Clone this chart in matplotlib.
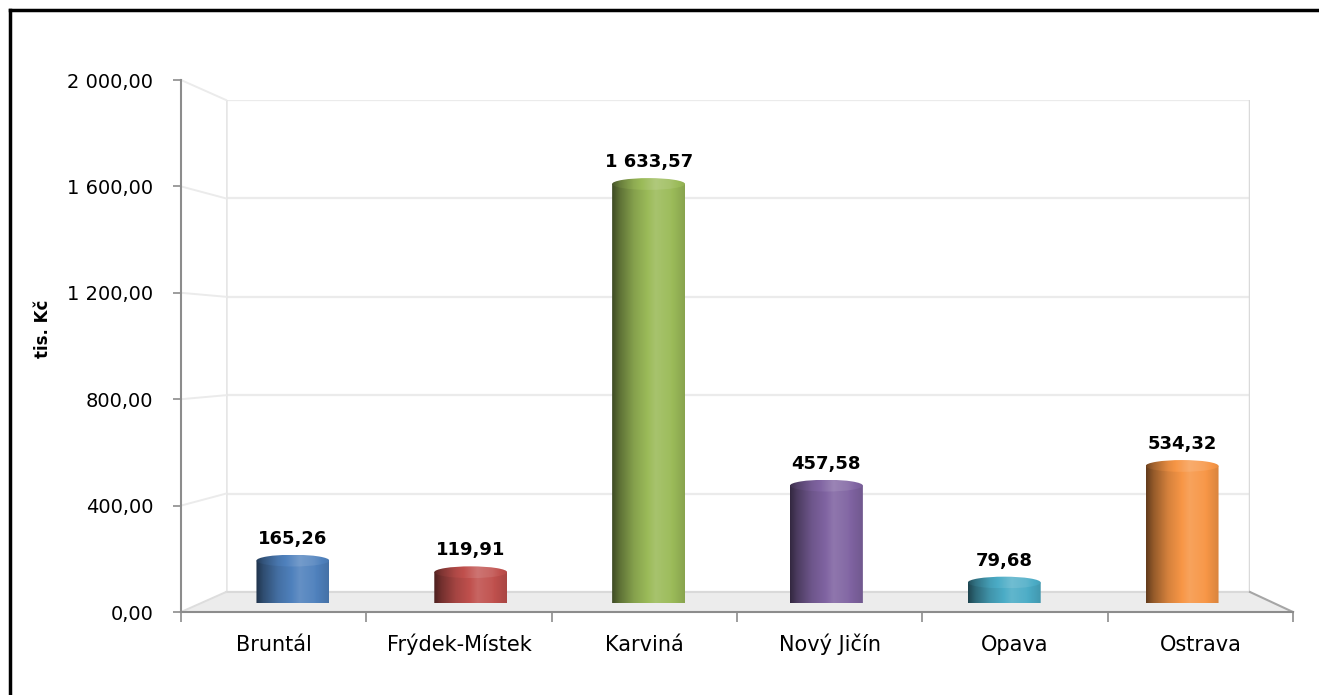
import numpy as np
import matplotlib
matplotlib.use("Agg")
import matplotlib.pyplot as plt
from matplotlib.patches import Polygon, Ellipse, PathPatch
from matplotlib.path import Path
from matplotlib.lines import Line2D
import matplotlib.colors as mcolors

# ---------------- data ----------------
categories = ["Bruntál", "Frýdek-Místek", "Karviná", "Nový Jičín", "Opava", "Ostrava"]
values = [165.26, 119.91, 1633.57, 457.58, 79.68, 534.32]
value_labels = ["165,26", "119,91", "1 633,57", "457,58", "79,68", "534,32"]
bar_colors = ["#4f81bd", "#c0504d", "#9bbb59", "#8064a2", "#4bacc6", "#f79646"]
y_ticks = [0, 400, 800, 1200, 1600, 2000]
y_tick_labels = ["0,00", "400,00", "800,00", "1 200,00", "1 600,00", "2 000,00"]
y_label = "tis. Kč"

plt.rcParams['font.family'] = ['DejaVu Sans']

W, H = 1319, 695
fig = plt.figure(figsize=(W / 100, H / 100), dpi=100)
fig.patch.set_facecolor("white")


def rect(x0, x1, ytop, ybot):
    return [x0 / W, 1 - ybot / H, (x1 - x0) / W, (ybot - ytop) / H]


n = len(categories)
xlim = (-0.5, n - 0.5)
ylim = (0, 2000)

# back wall, mid plane (bars), front plane (axes)
ax_back = fig.add_axes(rect(226, 1250, 100, 592), zorder=0)
ax_front = fig.add_axes(rect(181, 1293, 80, 612), zorder=1)
ax_mid = fig.add_axes(rect(204, 1271, 90, 603), zorder=2)

for a in (ax_back, ax_front, ax_mid):
    a.set_xlim(*xlim)
    a.set_ylim(*ylim)
    a.patch.set_alpha(0)

# ---- back wall ----
ax_back.set_axis_off()
grid_c = "#ebebeb"
for v in y_ticks:
    ax_back.plot(xlim, [v, v], color=grid_c, lw=1.6, solid_capstyle="butt")
ax_back.plot([xlim[0], xlim[0]], ylim, color="#e6e6e6", lw=1.8)
ax_back.plot([xlim[1], xlim[1]], ylim, color="#dadada", lw=2.5)


def to_front(ax_src, x, y):
    p = ax_src.transData.transform((x, y))
    return ax_front.transData.inverted().transform(p)


# ---- floor & left wall (in front axes) ----
bl = to_front(ax_back, xlim[0], 0)
br = to_front(ax_back, xlim[1], 0)
floor = Polygon([(xlim[0], 0), (xlim[1], 0), br, bl], closed=True,
                facecolor="#ececec", edgecolor="none", zorder=0, clip_on=False)
ax_front.add_patch(floor)
ax_front.plot([bl[0], br[0]], [bl[1], br[1]], color="#d9d9d9", lw=1.5, clip_on=False, zorder=1)
ax_front.plot([xlim[1], br[0]], [0, br[1]], color="#a6a6a6", lw=1.5, clip_on=False, zorder=1)
for v in y_ticks:
    b = to_front(ax_back, xlim[0], v)
    c = "#dddddd" if v == 0 else grid_c
    ax_front.plot([xlim[0], b[0]], [v, b[1]], color=c, lw=1.4, clip_on=False, zorder=1)

# ---- front axis styling ----
for s in ("top", "right"):
    ax_front.spines[s].set_visible(False)
ax_front.spines["left"].set_color("#8c8c8c")
ax_front.spines["bottom"].set_color("#8c8c8c")
ax_front.spines["left"].set_linewidth(1.5)
ax_front.spines["bottom"].set_linewidth(1.5)
ax_front.set_yticks(y_ticks)
ax_front.set_yticklabels(y_tick_labels, fontsize=14)
ax_front.tick_params(axis="y", length=6, width=1.2, color="#8c8c8c", pad=14)
ax_front.set_xticks(range(n))
ax_front.set_xticklabels(categories, fontsize=15)
ax_front.tick_params(axis="x", which="major", length=0, pad=28)
for lab in ax_front.get_xticklabels():
    lab.set_verticalalignment("baseline")
ax_front.set_xticks(np.arange(-0.5, n, 1.0), minor=True)
ax_front.tick_params(axis="x", which="minor", length=7, width=1.2, color="#8c8c8c")
fig.text(43 / W, 1 - 329 / H, y_label, rotation=90, fontsize=12, fontweight="bold",
         ha="center", va="center")

# ---- cylinders (mid plane) ----
ax_mid.set_axis_off()
bw = 0.41
ell_h = 46  # full ellipse height in data units

prof_t = [0.0, 0.1, 0.3, 0.6, 0.8, 1.0]
prof_f = [0.40, 0.60, 0.86, 1.08, 1.02, 0.88]


def shade(rgb, f):
    rgb = np.asarray(rgb)
    if f <= 1:
        return rgb * f
    return rgb + (1 - rgb) * (f - 1) * 1.5


def gradient(color, boost=0.0, N=120):
    rgb = mcolors.to_rgb(color)
    t = np.linspace(0, 1, N)
    fs = np.interp(t, prof_t, prof_f) + boost
    g = np.array([np.clip(shade(rgb, f), 0, 1) for f in fs])
    return g[np.newaxis, :, :]


for i, (v, col, lab) in enumerate(zip(values, bar_colors, value_labels)):
    x0, x1 = i - bw / 2, i + bw / 2
    th = np.linspace(np.pi, 2 * np.pi, 40)
    bottom = np.column_stack([i + bw / 2 * np.cos(th), 0 + ell_h / 2 * np.sin(th)])
    verts = np.vstack([[[x0, v]], bottom, [[x1, v]], [[x0, v]]])
    path = Path(verts)
    body = PathPatch(path, facecolor="none", edgecolor="none", transform=ax_mid.transData)
    ax_mid.add_patch(body)
    im = ax_mid.imshow(gradient(col), extent=(x0, x1, -ell_h, v), aspect="auto",
                       interpolation="bilinear", zorder=2)
    im.set_clip_path(body)
    top = Ellipse((i, v), bw, ell_h, facecolor="none", edgecolor="none",
                  transform=ax_mid.transData)
    ax_mid.add_patch(top)
    im2 = ax_mid.imshow(gradient(col, boost=0.06), extent=(x0, x1, v - ell_h / 2, v + ell_h / 2),
                        aspect="auto", interpolation="bilinear", zorder=3)
    im2.set_clip_path(top)
    ax_mid.annotate(lab, xy=(i, v + ell_h / 2), xytext=(0, 5), textcoords="offset points",
                    ha="center", va="bottom", fontsize=13, fontweight="bold", color="black")

ax_mid.set_xlim(*xlim)
ax_mid.set_ylim(*ylim)

# ---- outer frame ----
fig.add_artist(Line2D([10 / W, 10 / W], [0, 1 - 10 / H], transform=fig.transFigure,
                      color="black", lw=2.5))
fig.add_artist(Line2D([10 / W, 1.01], [1 - 10 / H, 1 - 10 / H], transform=fig.transFigure,
                      color="black", lw=2.5))

fig.savefig("out.png", dpi=100)
